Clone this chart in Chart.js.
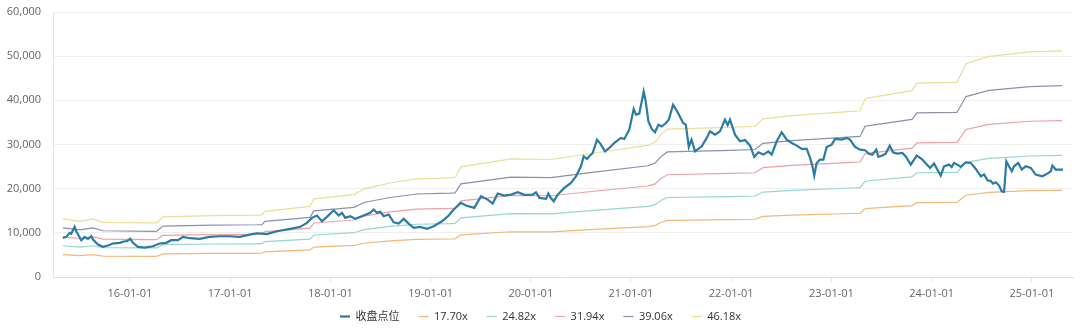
<!DOCTYPE html>
<html>
<head>
<meta charset="utf-8">
<script src="https://cdn.jsdelivr.net/npm/chart.js@4.4.1/dist/chart.umd.min.js"></script>
<style>
  html, body { margin: 0; padding: 0; background: #fff; }
  #wrap { width: 1080px; height: 333px; position: relative; }
</style>
</head>
<body>
<div id="wrap"><canvas id="peBand"></canvas></div>
<script>
// time is in fractional years (2016.0 = 16-01-01)
const closeT = [
  2015.331, 2015.364, 2015.398, 2015.414, 2015.448, 2015.464, 2015.514, 2015.548, 2015.581, 2015.614,
  2015.631, 2015.681, 2015.731, 2015.780, 2015.830, 2015.897, 2015.947, 2015.970, 2016.003, 2016.030,
  2016.080, 2016.147, 2016.230, 2016.296, 2016.362, 2016.412, 2016.479, 2016.529, 2016.596, 2016.696,
  2016.795, 2016.895, 2016.995, 2017.095, 2017.195, 2017.267, 2017.317, 2017.367, 2017.467, 2017.600,
  2017.700, 2017.766, 2017.816, 2017.866, 2017.916, 2017.966, 2018.033, 2018.083, 2018.116, 2018.149,
  2018.199, 2018.249, 2018.332, 2018.398, 2018.432, 2018.465, 2018.498, 2018.532, 2018.582, 2018.632,
  2018.682, 2018.732, 2018.781, 2018.831, 2018.897, 2018.964, 2019.031, 2019.114, 2019.181, 2019.231,
  2019.303, 2019.353, 2019.436, 2019.503, 2019.570, 2019.620, 2019.670, 2019.736, 2019.803, 2019.870,
  2019.936, 2020.019, 2020.052, 2020.086, 2020.152, 2020.175, 2020.197, 2020.229, 2020.269, 2020.335,
  2020.401, 2020.451, 2020.501, 2020.528, 2020.561, 2020.584, 2020.618, 2020.661, 2020.694, 2020.741,
  2020.784, 2020.834, 2020.900, 2020.933, 2020.983, 2021.027, 2021.050, 2021.083, 2021.127, 2021.147,
  2021.174, 2021.207, 2021.240, 2021.274, 2021.307, 2021.347, 2021.377, 2021.420, 2021.470, 2021.520,
  2021.547, 2021.577, 2021.604, 2021.639, 2021.706, 2021.756, 2021.788, 2021.838, 2021.888, 2021.938,
  2021.965, 2021.988, 2022.038, 2022.088, 2022.138, 2022.188, 2022.231, 2022.271, 2022.321, 2022.371,
  2022.404, 2022.454, 2022.504, 2022.554, 2022.604, 2022.654, 2022.704, 2022.754, 2022.787, 2022.809,
  2022.829, 2022.853, 2022.886, 2022.920, 2022.953, 2023.003, 2023.036, 2023.103, 2023.153, 2023.186,
  2023.236, 2023.286, 2023.336, 2023.375, 2023.408, 2023.448, 2023.468, 2023.508, 2023.542, 2023.582,
  2023.615, 2023.658, 2023.708, 2023.742, 2023.792, 2023.852, 2023.902, 2023.952, 2023.985, 2024.024,
  2024.057, 2024.091, 2024.124, 2024.174, 2024.200, 2024.224, 2024.257, 2024.291, 2024.341, 2024.391,
  2024.441, 2024.491, 2024.524, 2024.557, 2024.591, 2024.613, 2024.641, 2024.673, 2024.700, 2024.723,
  2024.746, 2024.772, 2024.800, 2024.822, 2024.865, 2024.899, 2024.939, 2024.989, 2025.039, 2025.105,
  2025.155, 2025.189, 2025.205, 2025.239, 2025.311
];
const closeV = [
  8870, 9090, 10000, 9780, 11360, 10360, 8330, 9090, 8640, 9230,
  8480, 7350, 6830, 7130, 7580, 7740, 8100, 8100, 8640, 7740,
  6830, 6670, 6970, 7580, 7740, 8330, 8330, 9090, 8780, 8640,
  9090, 9230, 9230, 9090, 9610, 9900, 9800, 9700, 10360, 10900,
  11360, 12260, 13390, 13910, 12620, 13620, 15110, 13910, 14520, 13390,
  13750, 13160, 13910, 14520, 15270, 14520, 14750, 13750, 14140, 12400,
  12100, 13160, 12100, 11130, 11360, 10900, 11490, 12620, 13910, 15270,
  16780, 16200, 15650, 18280, 17530, 16630, 18890, 18440, 18660, 19180,
  18590, 18660, 19180, 17910, 17690, 18890, 18000, 17150, 18660, 20180,
  21310, 22800, 25060, 27320, 26740, 27320, 28090, 31100, 30200, 28450,
  29220, 30350, 31490, 31260, 33360, 38050, 36760, 37000, 42000, 39770,
  35240, 33520, 32760, 34490, 34100, 34800, 35600, 39020, 37140, 34880,
  34500, 29450, 31100, 28450, 29590, 31490, 32980, 32230, 32980, 35620,
  34400, 35620, 32230, 30720, 31000, 29740, 27190, 28230, 27710, 28450,
  27710, 30720, 32760, 31100, 30350, 29740, 29000, 29000, 26960, 25220,
  22960, 25830, 26580, 26580, 29450, 29970, 31260, 31100, 31490, 31100,
  29450, 28840, 28700, 27900, 27700, 28840, 27190, 27500, 27940, 29740,
  28230, 27940, 28090, 27300, 25450, 27480, 26700, 25450, 24700, 25700,
  24320, 22960, 25060, 25450, 24900, 25830, 25450, 24930, 25970, 25830,
  24470, 22800, 23200, 21900, 21750, 21150, 21450, 20700, 19410, 19270,
  26190, 25060, 23930, 25060, 25830, 24320, 25060, 24700, 23190, 22800,
  23400, 23930, 25220, 24320, 24320
];

// trailing earnings per index point; band = multiple x earnings
const epsT = [
  2015.331, 2015.501, 2015.631, 2015.731, 2016.230, 2016.269, 2016.329, 2016.828, 2017.267, 2017.317,
  2017.347, 2017.796, 2017.836, 2018.236, 2018.335, 2018.595, 2018.864, 2019.194, 2019.244, 2019.303,
  2019.802, 2020.202, 2020.631, 2021.170, 2021.240, 2021.299, 2021.363, 2021.988, 2022.238, 2022.317,
  2022.607, 2023.206, 2023.286, 2023.335, 2023.375, 2023.804, 2023.854, 2024.253, 2024.283, 2024.343,
  2024.573, 2024.982, 2025.301
];
const epsV = [
  285, 273, 285, 268, 265, 266, 295, 301, 303, 304,
  322, 346, 383, 404, 432, 461, 481, 486, 488, 540,
  579, 576, 608, 645, 660, 698, 725, 734, 739, 775,
  791, 812, 815, 873, 878, 914, 951, 954, 984, 1046,
  1082, 1104, 1109
];

const multiples = [17.70, 24.82, 31.94, 39.06, 46.18];
const bandColors = ['#f1b977', '#95d6d2', '#eea0a6', '#8c8fae', '#e9de9a'];
const closeLabel = '收盘点位';
const yearTicks = [2016, 2017, 2018, 2019, 2020, 2021, 2022, 2023, 2024, 2025];

const datasets = [{
  label: closeLabel,
  data: closeT.map((t, i) => ({ x: t, y: closeV[i] })),
  borderColor: '#2b7ba3',
  backgroundColor: '#2b7ba3',
  borderWidth: 2.2,
  pointRadius: 0,
  pointStyle: 'line',
  tension: 0
}];
multiples.forEach((m, k) => {
  datasets.push({
    label: m.toFixed(2) + 'x',
    data: epsT.map((t, i) => ({ x: t, y: m * epsV[i] })),
    borderColor: bandColors[k],
    backgroundColor: bandColors[k],
    borderWidth: 1.2,
    pointRadius: 0,
    pointStyle: 'line',
    tension: 0
  });
});

// keep the legend strip short while its items stay widely spaced
const legendStrip = {
  id: 'legendStrip',
  beforeLayout(chart) {
    const lg = chart.legend;
    if (lg && !lg._stripFit) {
      const fit = lg.fit;
      lg.fit = function () { fit.call(this); this.height = 34; };
      lg._stripFit = true;
    }
  },
  afterLayout(chart) {
    chart.legend.top -= 7;
    chart.legend.bottom -= 7;
    chart.legend.left += 4;
    chart.legend.right += 4;
  }
};

Chart.defaults.font.family = '"Open Sans", "Noto Sans CJK SC", sans-serif';

new Chart(document.getElementById('peBand'), {
  type: 'line',
  data: { datasets },
  plugins: [legendStrip],
  options: {
    responsive: true,
    maintainAspectRatio: false,
    animation: false,
    layout: { padding: { top: 0, right: 7, bottom: 0, left: 0 } },
    plugins: {
      tooltip: { enabled: false },
      legend: {
        position: 'bottom',
        labels: {
          usePointStyle: true,
          pointStyleWidth: 10,
          boxHeight: 2,
          padding: 19,
          color: '#333',
          font: { size: 11 }
        }
      }
    },
    scales: {
      x: {
        type: 'linear',
        min: 2015.232,
        max: 2025.411,
        afterBuildTicks: (scale) => { scale.ticks = yearTicks.map(v => ({ value: v })); },
        afterFit: (scale) => { scale.height = 22; },
        ticks: {
          color: '#666',
          font: { size: 11 },
          padding: 5,
          maxRotation: 0,
          autoSkip: false,
          callback: (v) => String(v).slice(2) + '-01-01'
        },
        grid: { drawOnChartArea: false, drawTicks: true, tickLength: 5, color: '#dde1e6' },
        border: { color: '#dde1e6' }
      },
      y: {
        min: 0,
        max: 60000,
        afterFit: (scale) => {
          scale.width = 53;
          scale.paddingTop = 12;
          scale.paddingBottom = 0;
        },
        ticks: {
          stepSize: 10000,
          color: '#666',
          font: { size: 11 },
          padding: 12,
          callback: (v) => v.toLocaleString('en-US')
        },
        grid: { color: '#efefef', drawTicks: false },
        border: { color: '#e2e5ea' }
      }
    }
  }
});
</script>
</body>
</html>
